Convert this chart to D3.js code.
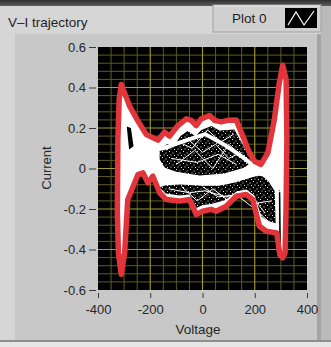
<!DOCTYPE html>
<html lang="en">
<head>
<meta charset="UTF-8">
<title>V-I trajectory</title>
<style>
  html, body { margin: 0; padding: 0; background: #d2d2d2; }
  svg { display: block; font-family: "Liberation Sans", Arial, sans-serif; }
  .tick text { fill: #262626; font-size: 13px; }
  .tick line { stroke: #3a3a3a; }
</style>
</head>
<body>
<svg id="chart" width="331" height="347"></svg>
<script src="https://cdnjs.cloudflare.com/ajax/libs/d3/7.8.5/d3.min.js"></script>
<script>
  // axis ticks
  const xTicks = [-400, -200, 0, 200, 400];
  const yTicks = [-0.6, -0.4, -0.2, 0, 0.2, 0.4, 0.6];

  // outer envelope of all cycles (Voltage, Current)
  const envelope = [
    [-311, 0.415], [-279, 0.308], [-247, 0.234], [-215, 0.168], [-171, 0.140], [-145, 0.180],
    [-126, 0.160], [-94, 0.212], [-62, 0.245], [-43, 0.238], [-24, 0.212], [-5, 0.245],
    [27, 0.262], [46, 0.238], [71, 0.230], [97, 0.238], [129, 0.240], [154, 0.160],
    [180, 0.077], [199, 0.036], [224, 0.020], [250, 0.077], [275, 0.242], [294, 0.423],
    [307, 0.510], [320, 0.44], [323, 0.143], [320, -0.186], [316, -0.416], [307, -0.441],
    [296, -0.425], [284, -0.318], [244, -0.31], [218, -0.285], [192, -0.153], [167, -0.128],
    [129, -0.137], [91, -0.186], [52, -0.211], [33, -0.202], [1, -0.211], [-24, -0.227],
    [-50, -0.153], [-88, -0.161], [-139, -0.153], [-164, -0.120], [-190, -0.038], [-209, -0.071],
    [-228, -0.021], [-247, -0.030], [-286, -0.153], [-298, -0.416], [-311, -0.523], [-322, -0.416],
    [-326, -0.219], [-324, 0.143], [-319, 0.341]
  ];

  // sparse regions inside the envelope (few cycles pass there)
  const upperGap = [
    [-153, 0.105], [-134, 0.122], [-111, 0.108], [-84, 0.160], [-57, 0.185], [-27, 0.160],
    [-4, 0.190], [34, 0.210], [65, 0.188], [122, 0.192], [149, 0.130], [172, 0.078],
    [190, 0.035], [161, 0.005], [84, -0.025], [-11, -0.035], [-107, -0.015], [-145, 0.005],
    [-164, 0.044], [-164, 0.090]
  ];
  const lowerGap = [
    [-145, -0.084], [-88, -0.079], [-11, -0.084], [84, -0.079], [161, -0.054], [210, -0.035],
    [256, -0.044], [276, -0.104], [280, -0.270], [249, -0.258], [226, -0.238], [199, -0.133],
    [168, -0.104], [130, -0.114], [88, -0.155], [34, -0.175], [0, -0.180], [-23, -0.195],
    [-50, -0.128], [-88, -0.133], [-141, -0.123], [-164, -0.094]
  ];
  const leftGap = [[-290, 0.207], [-274, 0.200], [-264, 0.110], [-281, 0.094]];
  const rightGap = [[292, -0.10], [298, -0.12], [300, -0.36], [294, -0.38]];

  // dense bands of the trajectory
  const upperArc = [[-250, 0.08], [-150, 0.10], [-60, 0.14], [10, 0.17], [80, 0.12], [150, 0.06], [210, 0.0], [260, -0.06], [290, -0.12]];
  const lowerArc = [[-300, 0.05], [-230, 0.03], [-150, -0.02], [-60, -0.05], [0, -0.065], [60, -0.065], [120, -0.05], [180, -0.025], [230, -0.01], [280, 0.02]];

  // single cycles crossing the sparse regions
  const traces = [
    [[-100, 0.02], [-30, 0.09], [40, 0.0], [100, 0.12], [170, 0.04]],
    [[-120, 0.05], [-20, 0.03], [60, 0.07], [130, 0.02]],
    [[-60, 0.15], [0, 0.08], [50, 0.12], [100, 0.05], [150, 0.08]],
    [[-140, 0.09], [-90, 0.13], [-40, 0.10], [20, 0.19], [70, 0.13], [120, 0.17]],
    [[-80, -0.09], [-20, -0.16], [40, -0.1], [110, -0.17], [170, -0.11], [240, -0.22]],
    [[0, -0.09], [60, -0.14], [130, -0.13], [200, -0.2], [260, -0.27]],
    [[-130, -0.10], [-50, -0.12], [10, -0.11], [90, -0.14], [150, -0.12], [210, -0.17], [265, -0.16]]
  ];

  const svg = d3.select("#chart");
  const W = 331, H = 347;
  const plot = { left: 98, right: 307, top: 47, bottom: 290 };
  const defs = svg.append("defs");

  // panel chrome
  svg.append("rect").attr("width", W).attr("height", H).attr("fill", "#d6d6d6");
  const grad = defs.append("linearGradient").attr("id", "topband").attr("x2", 0).attr("y2", 1);
  grad.append("stop").attr("offset", 0).attr("stop-color", "#2e2e2e");
  grad.append("stop").attr("offset", 1).attr("stop-color", "#5c5c5c");
  svg.append("rect").attr("width", W).attr("height", 6).attr("fill", "url(#topband)");
  svg.append("rect").attr("x", 15).attr("y", 34).attr("width", 306).attr("height", 306).attr("fill", "#c8c8c8");
  svg.append("rect").attr("x", 317).attr("y", 34).attr("width", 4).attr("height", 306).attr("fill", "#a4a4a4");
  svg.append("rect").attr("x", 321).attr("y", 6).attr("width", 10).attr("height", 335).attr("fill", "#bababa");
  svg.append("rect").attr("x", 0).attr("y", 340).attr("width", W).attr("height", 2).attr("fill", "#8e8e8e");
  svg.append("rect").attr("x", 0).attr("y", 342).attr("width", W).attr("height", 5).attr("fill", "#e6e6e6");

  // title + legend
  svg.append("text").attr("x", 8).attr("y", 27).attr("font-size", 13.5).attr("fill", "#1e1e1e").text("V\u2013I trajectory");
  const leg = svg.append("g");
  leg.append("rect").attr("x", 213).attr("y", 5).attr("width", 108).attr("height", 27).attr("fill", "#d0d0d0")
    .attr("stroke", "#a0a0a0");
  leg.append("line").attr("x1", 214).attr("x2", 320).attr("y1", 6).attr("y2", 6).attr("stroke", "#eeeeee");
  leg.append("text").attr("x", 232).attr("y", 23).attr("font-size", 13.5).attr("fill", "#1e1e1e").text("Plot 0");
  leg.append("rect").attr("x", 285).attr("y", 8).attr("width", 32).attr("height", 20).attr("fill", "#000");
  leg.append("polyline").attr("points", "288,25 296,12 304,25 314,11")
    .attr("fill", "none").attr("stroke", "#fff").attr("stroke-width", 1.2);

  const x = d3.scaleLinear().domain([-400, 400]).range([plot.left, plot.right]);
  const y = d3.scaleLinear().domain([-0.6, 0.6]).range([plot.bottom, plot.top]);

  // plot background + grid
  svg.append("rect").attr("x", plot.left).attr("y", plot.top)
    .attr("width", plot.right - plot.left).attr("height", plot.bottom - plot.top).attr("fill", "#000");

  const grid = svg.append("g");
  grid.selectAll(".vminor").data(d3.range(-350, 400, 50).filter(v => v % 200 !== 0)).join("line")
    .attr("x1", d => x(d)).attr("x2", d => x(d)).attr("y1", plot.top).attr("y2", plot.bottom)
    .attr("stroke", "#5e5c22").attr("stroke-width", 1);
  grid.selectAll(".hminor").data(d3.range(-30, 31, 2).map(v => v / 50).filter(v => Math.abs(Math.round(v * 50)) % 10 !== 0)).join("line")
    .attr("x1", plot.left).attr("x2", plot.right).attr("y1", d => y(d)).attr("y2", d => y(d))
    .attr("stroke", "#5e5c22").attr("stroke-width", 1);
  grid.selectAll(".vmajor").data(xTicks.slice(1, -1)).join("line")
    .attr("x1", d => x(d)).attr("x2", d => x(d)).attr("y1", plot.top).attr("y2", plot.bottom)
    .attr("stroke", "#a29e30").attr("stroke-width", 1.1);
  grid.selectAll(".hmajor").data(yTicks.slice(1, -1)).join("line")
    .attr("x1", plot.left).attr("x2", plot.right).attr("y1", d => y(d)).attr("y2", d => y(d))
    .attr("stroke", "#a29e30").attr("stroke-width", 1.1);

  // speckle of sparse points in the gaps
  const pat = defs.append("pattern").attr("id", "speck").attr("patternUnits", "userSpaceOnUse")
    .attr("width", 7).attr("height", 6);
  pat.append("rect").attr("width", 7).attr("height", 6).attr("fill", "#000");
  [[1, 1], [4.5, 2.5], [2.5, 4.5], [6, 5]].forEach(p => {
    pat.append("rect").attr("x", p[0]).attr("y", p[1]).attr("width", 1).attr("height", 1).attr("fill", "#e8e8e8");
  });

  // trajectory
  const line = d3.line().x(d => x(d[0])).y(d => y(d[1]));
  const area = d3.line().x(d => x(d[0])).y(d => y(d[1])).curve(d3.curveLinearClosed);
  const traj = svg.append("g");

  traj.append("path").datum(envelope).attr("d", area).attr("fill", "#fff").attr("stroke", "#fff").attr("stroke-width", 1);
  [upperGap, lowerGap].forEach(g => {
    traj.append("path").datum(g).attr("d", area).attr("fill", "url(#speck)");
  });
  [leftGap, rightGap].forEach(g => {
    traj.append("path").datum(g).attr("d", area).attr("fill", "#000");
  });
  traces.forEach(t => {
    traj.append("path").datum(t).attr("d", line).attr("fill", "none")
      .attr("stroke", "#fff").attr("stroke-width", 1);
  });
  traj.append("path").datum(upperArc).attr("d", line).attr("fill", "none").attr("stroke", "#fff").attr("stroke-width", 4);
  traj.append("path").datum(lowerArc).attr("d", line).attr("fill", "none").attr("stroke", "#fff").attr("stroke-width", 8);
  traj.append("path").datum(envelope).attr("d", area).attr("fill", "none")
    .attr("stroke", "#e2343b").attr("stroke-width", 5.5).attr("stroke-linejoin", "round");

  // axes
  const yAxis = svg.append("g").attr("transform", `translate(${plot.left - 2},0)`)
    .call(d3.axisLeft(y).tickValues(yTicks).tickSize(7).tickPadding(3).tickFormat(d => String(d)));
  yAxis.select(".domain").remove();
  const xAxis = svg.append("g").attr("transform", `translate(0,${plot.bottom + 3})`)
    .call(d3.axisBottom(x).tickValues(xTicks).tickSize(5).tickPadding(7).tickFormat(d => String(d)));
  xAxis.select(".domain").remove();
  svg.selectAll(".tick text").attr("font-family", "Liberation Sans, Arial, sans-serif");

  svg.append("text").attr("x", 198).attr("y", 334).attr("text-anchor", "middle")
    .attr("font-size", 13.5).attr("fill", "#262626").text("Voltage");
  svg.append("text").attr("transform", "translate(51,168) rotate(-90)").attr("text-anchor", "middle")
    .attr("font-size", 13).attr("fill", "#262626").text("Current");
</script>
</body>
</html>
